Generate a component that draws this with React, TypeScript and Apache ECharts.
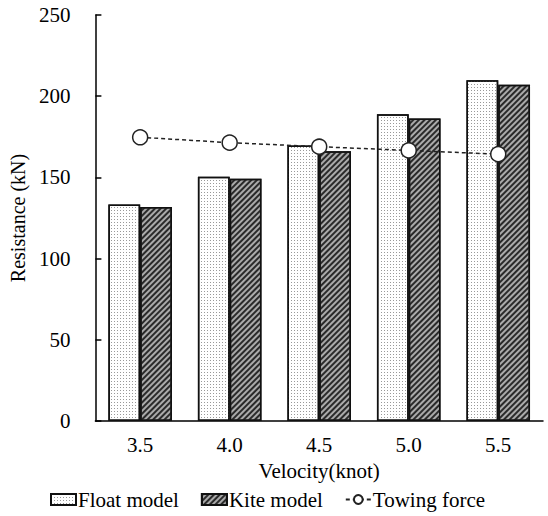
import React, { useEffect, useRef } from "react";
import * as echarts from "echarts";

const categories = ["3.5", "4.0", "4.5", "5.0", "5.5"];
const floatModel = [133.3, 150.4, 169.7, 188.9, 209.8];
const kiteModel = [131.8, 149.2, 166.1, 186.2, 207.1];
const towingForce = [174.7, 171.4, 168.9, 166.6, 164.3];

const FONT = "'Liberation Serif', 'Times New Roman', serif";

export default function App() {
  const ref = useRef<HTMLDivElement>(null);
  useEffect(() => {
    if (!ref.current) return;
    const chart = echarts.init(ref.current, undefined, { renderer: "svg" });
    chart.setOption({
      animation: false,
      textStyle: { fontFamily: FONT, color: "#000" },
      grid: { left: 93, right: 5, top: 15, bottom: 95, containLabel: false },
      legend: {
        bottom: 1,
        left: 45,
        itemWidth: 25,
        itemHeight: 11,
        itemGap: 22,
        textStyle: { fontFamily: FONT, fontSize: 21, color: "#000", padding: [0, 0, 0, -3] },
        data: [
          { name: "Float model", icon: "rect" },
          { name: "Kite model", icon: "rect" },
          "Towing force",
        ],
      },
      xAxis: {
        type: "category",
        data: categories,
        name: "Velocity(knot)",
        nameLocation: "middle",
        nameGap: 39,
        nameTextStyle: { fontFamily: FONT, fontSize: 21, color: "#000" },
        axisLine: { lineStyle: { color: "#000", width: 1.5 } },
        axisTick: { inside: true, length: 5, lineStyle: { color: "#000", width: 1.5 } },
        axisLabel: { fontFamily: FONT, fontSize: 21, color: "#000", margin: 13 },
        splitLine: { show: false },
      },
      yAxis: {
        type: "value",
        min: 0,
        max: 250,
        interval: 50,
        name: "Resistance (kN)",
        nameLocation: "middle",
        nameGap: 58,
        nameTextStyle: { fontFamily: FONT, fontSize: 20, color: "#000" },
        axisLine: { show: true, lineStyle: { color: "#000", width: 1.5 } },
        axisTick: { show: true, inside: true, length: 6, lineStyle: { color: "#000", width: 1.5 } },
        axisLabel: { fontFamily: FONT, fontSize: 21, color: "#000", margin: 25 },
        splitLine: { show: false },
      },
      series: [
        {
          name: "Float model",
          type: "bar",
          data: floatModel,
          barGap: "0%",
          barCategoryGap: "29%",
          itemStyle: {
            color: "#ffffff",
            borderColor: "#111",
            borderWidth: 1.5,
            decal: {
              symbol: "rect",
              symbolSize: 1,
              dashArrayX: [1, 2],
              dashArrayY: [1, 2],
              color: "#999",
              backgroundColor: "#f4f4f4",
            },
          },
        },
        {
          name: "Kite model",
          type: "bar",
          data: kiteModel,
          itemStyle: {
            color: "#aaaaaa",
            borderColor: "#111",
            borderWidth: 1.5,
            decal: {
              symbol: "rect",
              symbolSize: 1,
              dashArrayX: [1, 0],
              dashArrayY: [1.5, 1.5],
              rotation: -Math.PI / 4,
              color: "#2a2a2a",
              backgroundColor: "#a8a8a8",
            },
          },
        },
        {
          name: "Towing force",
          type: "line",
          data: towingForce,
          z: 5,
          symbol: "circle",
          symbolSize: 15,
          lineStyle: { color: "#222", width: 1.5, type: [4, 3] },
          itemStyle: { color: "#fff", borderColor: "#222", borderWidth: 1.5 },
        },
      ],
    });
    return () => chart.dispose();
  }, []);
  return <div ref={ref} style={{ width: 548, height: 516, position: "absolute", left: 0, top: 0 }} />;
}
